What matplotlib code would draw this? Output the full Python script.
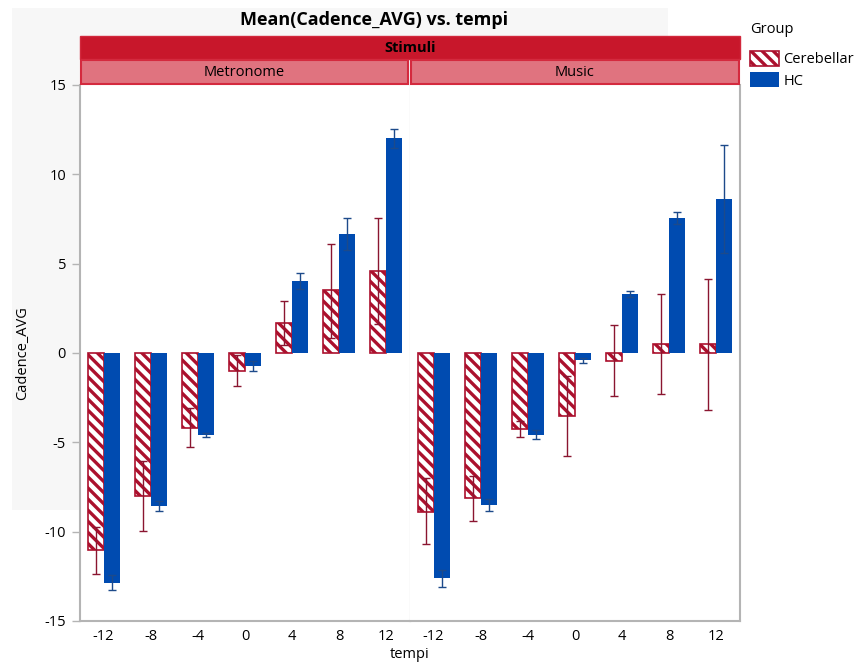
import numpy as np
import matplotlib.pyplot as plt
from matplotlib.patches import Rectangle

plt.rcParams['font.family'] = ['Open Sans', 'DejaVu Sans']
plt.rcParams['hatch.linewidth'] = 2.4

# Данные
tempi = [-12, -8, -4, 0, 4, 8, 12]
panels = ['Metronome', 'Music']
groups = ['Cerebellar', 'HC']

metro_cer = [-11.05, -8.02, -4.18, -1.00, 1.66, 3.51, 4.61]
metro_cer_lo = [-12.37, -9.98, -5.26, -1.85, 0.45, 0.86, 1.64]
metro_cer_hi = [-9.74, -6.06, -3.10, -0.11, 2.91, 6.12, 7.57]
metro_hc = [-12.85, -8.54, -4.57, -0.71, 4.01, 6.66, 12.01]
metro_hc_lo = [-13.26, -8.86, -4.68, -1.03, 3.56, 5.75, 11.49]
metro_hc_hi = [-12.42, -8.28, -4.48, -0.43, 4.46, 7.57, 12.53]

music_cer = [-8.88, -8.14, -4.25, -3.55, -0.42, 0.52, 0.52]
music_cer_lo = [-10.69, -9.40, -4.70, -5.76, -2.39, -2.29, -3.19]
music_cer_hi = [-7.02, -6.87, -3.81, -1.31, 1.55, 3.32, 4.16]
music_hc = [-12.61, -8.49, -4.57, -0.37, 3.30, 7.55, 8.62]
music_hc_lo = [-13.07, -8.86, -4.83, -0.54, 3.11, 7.22, 5.61]
music_hc_hi = [-12.16, -8.15, -4.29, -0.26, 3.49, 7.91, 11.66]

data = {
    'Metronome': [(metro_cer, metro_cer_lo, metro_cer_hi), (metro_hc, metro_hc_lo, metro_hc_hi)],
    'Music': [(music_cer, music_cer_lo, music_cer_hi), (music_hc, music_hc_lo, music_hc_hi)],
}

red = '#ab102d'
blue = '#004bb0'
W, H = 859, 666
fs = 10.5

fig = plt.figure(figsize=(W / 100, H / 100), dpi=100)


def fx(px):
    return px / W


def fy(py):
    return 1 - py / H


# серый фон графика
fig.patches.append(Rectangle((fx(12), fy(510)), fx(668) - fx(12), fy(8) - fy(510),
                             transform=fig.transFigure, facecolor='#f7f7f7',
                             edgecolor='none', zorder=-5))

x = np.arange(len(tempi))
bw = 0.34
axes = []
for i, name in enumerate(panels):
    left = 80 if i == 0 else 410
    ax = fig.add_axes([fx(left), fy(621), fx(330), fy(85) - fy(621)])
    axes.append(ax)
    (c, clo, chi), (h, hlo, hhi) = data[name]
    c, clo, chi = map(np.array, (c, clo, chi))
    h, hlo, hhi = map(np.array, (h, hlo, hhi))
    bars_c = ax.bar(x - bw / 2, c, bw, facecolor='white', edgecolor=red,
                    hatch='\\\\\\', linewidth=1.2, label='Cerebellar')
    bars_h = ax.bar(x + bw / 2, h, bw, color=blue, label='HC')
    ax.errorbar(x - bw / 2, c, yerr=[c - clo, chi - c], fmt='none',
                ecolor='#8a1530', elinewidth=1, capsize=3, capthick=1)
    ax.errorbar(x + bw / 2, h, yerr=[h - hlo, hhi - h], fmt='none',
                ecolor='#1d4a8a', elinewidth=1, capsize=3, capthick=1)
    ax.set_xlim(-0.5, 6.5)
    ax.set_ylim(-15, 15)
    ax.set_xticks(x)
    ax.set_xticklabels(tempi, fontsize=fs)
    ax.tick_params(axis='x', length=0, pad=6)
    ax.spines['top'].set_visible(False)
    for s in ['left', 'right', 'bottom']:
        ax.spines[s].set_color('#b4b4b4')
        ax.spines[s].set_linewidth(1.5)
    if i == 0:
        ax.spines['right'].set_color('#e6e6e6')
        ax.spines['right'].set_linewidth(1)
        ax.set_yticks([-15, -10, -5, 0, 5, 10, 15])
        ax.set_yticklabels(['-15', '-10', '-5', '0', '5', '10', '15'], fontsize=fs)
        ax.tick_params(axis='y', length=6, color='#b4b4b4', width=1, pad=4)
        ax.set_ylabel('Cadence_AVG', fontsize=fs, labelpad=10)
    else:
        ax.spines['left'].set_visible(False)
        ax.set_yticks([])

# полосы заголовков
fig.patches.append(Rectangle((fx(80), fy(59)), fx(660), fy(36) - fy(59),
                             transform=fig.transFigure, facecolor='#c8172b',
                             edgecolor='#d2283c', linewidth=1, zorder=3))
fig.text(fx(410), fy(47.5), 'Stimuli', ha='center', va='center',
         fontsize=fs, fontweight='bold')
for left, w, name in [(81, 327, 'Metronome'), (411, 328, 'Music')]:
    fig.patches.append(Rectangle((fx(left), fy(84)), fx(w), fy(60) - fy(84),
                                 transform=fig.transFigure, facecolor='#e0737f',
                                 edgecolor='#d42a3e', linewidth=1.5, zorder=3))
    fig.text(fx(left + w / 2), fy(72), name, ha='center', va='center', fontsize=fs)

fig.text(fx(374), fy(20), 'Mean(Cadence_AVG) vs. tempi', ha='center', va='center',
         fontsize=13, fontweight='bold')
fig.text(fx(410), fy(655), 'tempi', ha='center', va='center', fontsize=fs)

handles = [bars_c, bars_h]
leg = fig.legend(handles, groups, loc='upper left',
                 bbox_to_anchor=(fx(744), fy(16)), frameon=False, title='Group',
                 alignment='left', fontsize=fs, title_fontsize=fs,
                 handlelength=2.0, handleheight=1.2, handletextpad=0.3,
                 labelspacing=0.35, borderaxespad=0)
leg._legend_box.sep = 10

plt.savefig('out.png', dpi=100)
